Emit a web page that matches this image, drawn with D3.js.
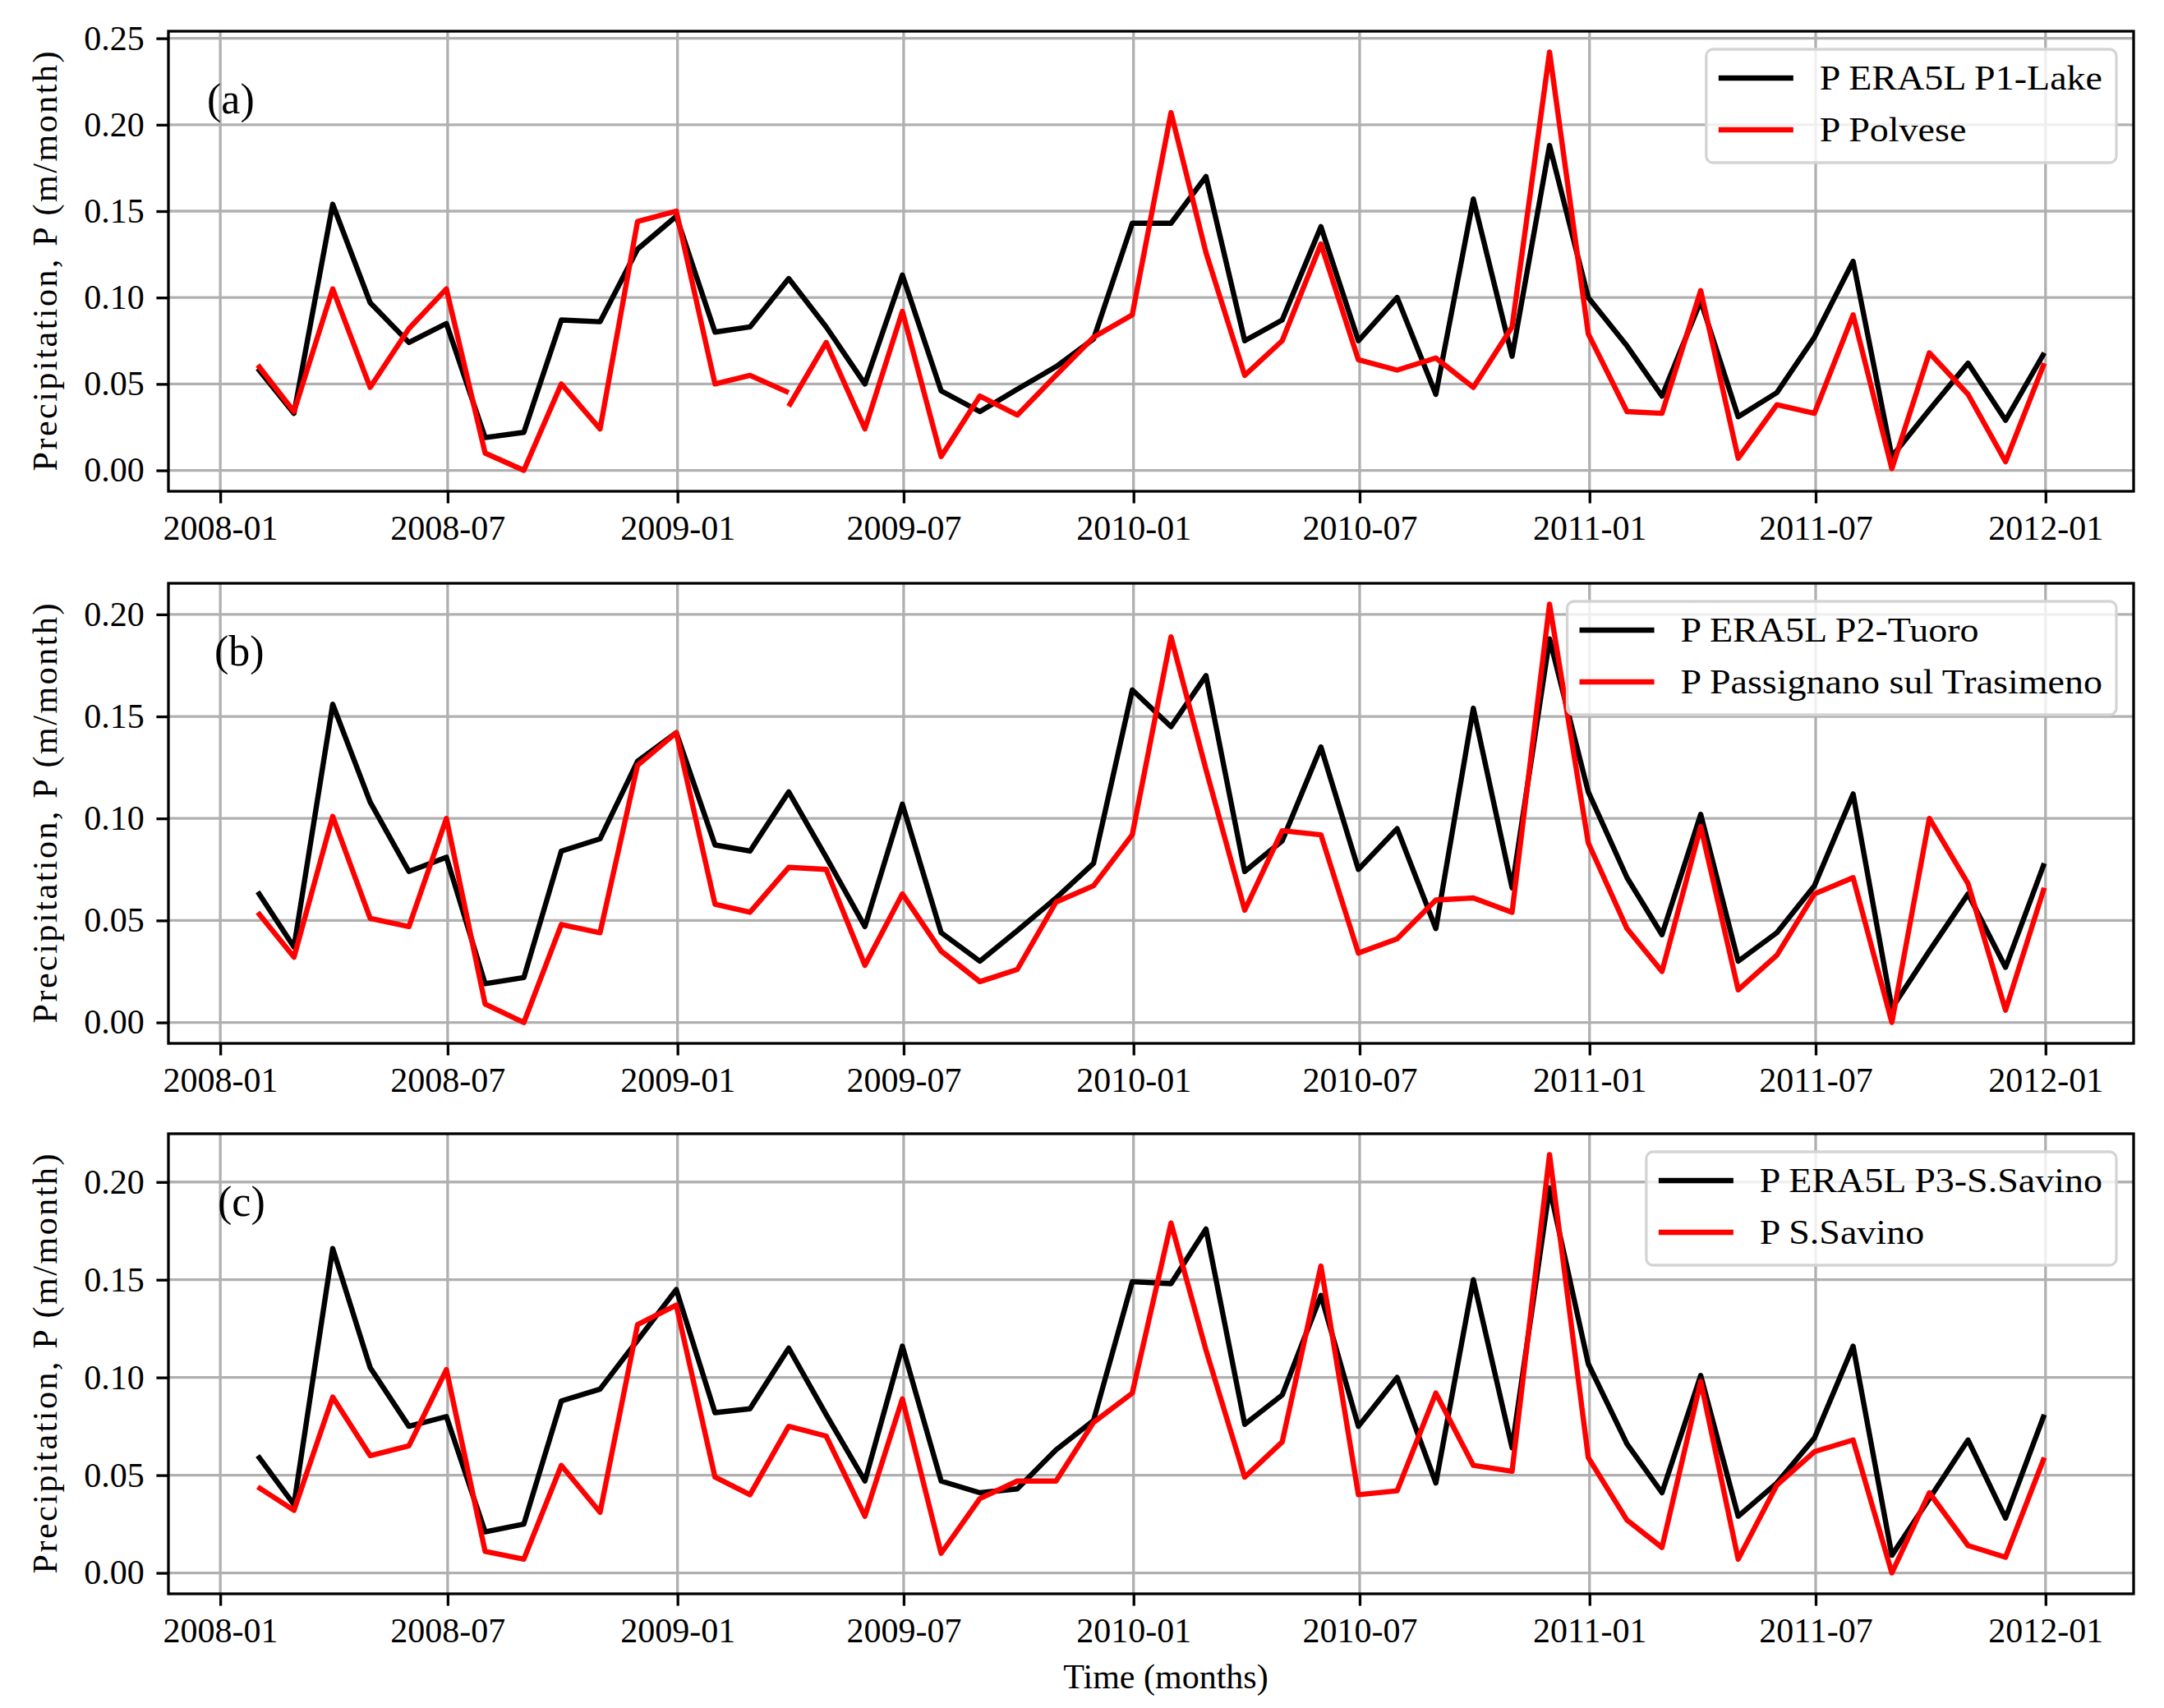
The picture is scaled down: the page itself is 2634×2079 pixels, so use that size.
<!DOCTYPE html>
<html>
<head>
<meta charset="utf-8">
<script src="https://cdn.jsdelivr.net/npm/d3@7"></script>
<style>
  body { margin: 0; background: #fff; }
  svg text { font-family: "Liberation Serif", "DejaVu Serif", serif !important; fill: #000; }
</style>
</head>
<body>
<svg id="fig"></svg>
<script>
// monthly totals, Jan 2008 .. Dec 2011 (month-end stamps)
var firstMonth = "2008-01";
var nMonths = 48;
var xTickLabels = ["2008-01", "2008-07", "2009-01", "2009-07", "2010-01",
                   "2010-07", "2011-01", "2011-07", "2012-01"];

// (a) ERA5L P1-Lake vs Polvese
var eraLake = [0.059, 0.033, 0.154, 0.097, 0.074, 0.085, 0.019, 0.022, 0.087, 0.086, 0.128, 0.147,
               0.080, 0.083, 0.111, 0.083, 0.050, 0.113, 0.046, 0.034, 0.047, 0.060, 0.076, 0.143,
               0.143, 0.170, 0.075, 0.087, 0.141, 0.075, 0.100, 0.044, 0.157, 0.066, 0.188, 0.100,
               0.072, 0.043, 0.098, 0.031, 0.045, 0.077, 0.121, 0.008, 0.035, 0.062, 0.029, 0.068];
// Polvese record is split in two pieces at Mar 2009
var polvese1 = [0.061, 0.034, 0.105, 0.048, 0.082, 0.105, 0.010, 0.000, 0.050, 0.024, 0.144, 0.150,
                0.050, 0.055, 0.045];                       // Jan 2008 .. Mar 2009
var polvese2 = [0.037, 0.074, 0.024, 0.092, 0.008, 0.043, 0.032, 0.055, 0.077, 0.090,
                0.207, 0.126, 0.055, 0.075, 0.131, 0.064, 0.058, 0.065, 0.048, 0.083, 0.242, 0.079,
                0.034, 0.033, 0.104, 0.007, 0.038, 0.033, 0.090, 0.001, 0.068, 0.044, 0.005, 0.062]; // Mar 2009 .. Dec 2011

// (b) ERA5L P2-Tuoro vs Passignano sul Trasimeno
var eraTuoro = [0.064, 0.037, 0.156, 0.108, 0.074, 0.081, 0.019, 0.022, 0.084, 0.090, 0.128, 0.142,
                0.087, 0.084, 0.113, 0.081, 0.047, 0.107, 0.044, 0.030, 0.045, 0.061, 0.078, 0.163,
                0.145, 0.170, 0.074, 0.089, 0.135, 0.075, 0.095, 0.046, 0.154, 0.066, 0.188, 0.113,
                0.071, 0.043, 0.102, 0.030, 0.044, 0.067, 0.112, 0.007, 0.035, 0.063, 0.027, 0.078];
var passignano = [0.054, 0.032, 0.101, 0.051, 0.047, 0.100, 0.009, 0.000, 0.048, 0.044, 0.126, 0.142,
                  0.058, 0.054, 0.076, 0.075, 0.028, 0.063, 0.035, 0.020, 0.026, 0.059, 0.067, 0.092,
                  0.189, 0.124, 0.055, 0.094, 0.092, 0.034, 0.041, 0.060, 0.061, 0.054, 0.205, 0.088,
                  0.046, 0.025, 0.096, 0.016, 0.033, 0.063, 0.071, 0.000, 0.100, 0.068, 0.006, 0.066];

// (c) ERA5L P3-S.Savino vs S.Savino
var eraSavino = [0.060, 0.035, 0.166, 0.105, 0.075, 0.080, 0.021, 0.025, 0.088, 0.094, 0.119, 0.145,
                 0.082, 0.084, 0.115, 0.081, 0.047, 0.116, 0.047, 0.041, 0.043, 0.063, 0.078, 0.149,
                 0.148, 0.176, 0.076, 0.091, 0.142, 0.075, 0.100, 0.046, 0.150, 0.064, 0.197, 0.107,
                 0.066, 0.041, 0.101, 0.029, 0.046, 0.069, 0.116, 0.009, 0.038, 0.068, 0.028, 0.081];
var savino = [0.044, 0.032, 0.090, 0.060, 0.065, 0.104, 0.011, 0.007, 0.055, 0.031, 0.127, 0.137,
              0.049, 0.040, 0.075, 0.070, 0.029, 0.089, 0.010, 0.038, 0.047, 0.047, 0.077, 0.092,
              0.179, 0.114, 0.049, 0.067, 0.157, 0.040, 0.042, 0.092, 0.055, 0.052, 0.214, 0.059,
              0.027, 0.013, 0.098, 0.007, 0.045, 0.062, 0.068, 0.000, 0.041, 0.014, 0.008, 0.059];

var yTicksA = [0, 0.05, 0.10, 0.15, 0.20, 0.25];
var yTicksBC = [0, 0.05, 0.10, 0.15, 0.20];

//panels: each series is a list of [start month index, values] pieces
var panels = [
    {tag: "(a)", black: [[0, eraLake]], red: [[0, polvese1], [14, polvese2]],
     blackName: "P ERA5L P1-Lake", redName: "P Polvese", yTicks: yTicksA,
     top: 38, tagX: 252},
    {tag: "(b)", black: [[0, eraTuoro]], red: [[0, passignano]],
     blackName: "P ERA5L P2-Tuoro", redName: "P Passignano sul Trasimeno", yTicks: yTicksBC,
     top: 710, tagX: 261},
    {tag: "(c)", black: [[0, eraSavino]], red: [[0, savino]],
     blackName: "P ERA5L P3-S.Savino", redName: "P S.Savino", yTicks: yTicksBC,
     top: 1380, tagX: 265}
];

//figure geometry
var W = 2634, H = 2079;
var left = 205, right = 2597, panelH = 560;
var lw = 6.4, spineW = 3.3, tickLen = 14.6, tickPad = 14.6;
var serif = "'Liberation Serif', 'DejaVu Serif', serif";

var svg = d3.select("#fig").attr("width", W).attr("height", H);
svg.append("rect").attr("width", W).attr("height", H).attr("fill", "#fff");

//month-end dates
var parseMonth = d3.utcParse("%Y-%m");
var start = parseMonth(firstMonth);
var dates = d3.range(nMonths).map(function(i) {
    return d3.utcDay.offset(d3.utcMonth.offset(start, i + 1), -1);
});
var t0 = +dates[0], t1 = +dates[nMonths - 1], span = t1 - t0;
var x = d3.scaleUtc()
    .domain([new Date(t0 - 0.05 * span), new Date(t1 + 0.05 * span)])
    .range([left, right]);
var xTicks = xTickLabels.map(parseMonth);

function toPoints(pieces) {
    return pieces.map(function(p) {
        return p[1].map(function(v, j) { return {date: dates[p[0] + j], value: v}; });
    });
}

panels.forEach(function(p) {
    var top = p.top, bottom = top + panelH;
    var blackPieces = toPoints(p.black), redPieces = toPoints(p.red);
    var all = d3.merge(blackPieces.concat(redPieces)).map(function(d) { return d.value; });
    var lo = d3.min(all), hi = d3.max(all), pad = 0.05 * (hi - lo);
    var y = d3.scaleLinear().domain([lo - pad, hi + pad]).range([bottom, top]);

    var g = svg.append("g");

    //grid
    g.append("g").selectAll("line").data(p.yTicks).join("line")
        .attr("x1", left).attr("x2", right)
        .attr("y1", function(d) { return y(d); }).attr("y2", function(d) { return y(d); })
        .attr("stroke", "#b0b0b0").attr("stroke-width", 3.3);
    g.append("g").selectAll("line").data(xTicks).join("line")
        .attr("y1", top).attr("y2", bottom)
        .attr("x1", function(d) { return x(d); }).attr("x2", function(d) { return x(d); })
        .attr("stroke", "#b0b0b0").attr("stroke-width", 3.3);

    //series
    var line = d3.line().x(function(d) { return x(d.date); }).y(function(d) { return y(d.value); });
    [[blackPieces, "#000000"], [redPieces, "#ff0000"]].forEach(function(s) {
        g.append("g").selectAll("path").data(s[0]).join("path")
            .attr("d", line)
            .attr("fill", "none").attr("stroke", s[1]).attr("stroke-width", lw)
            .attr("stroke-linejoin", "round").attr("stroke-linecap", "butt");
    });

    //axes
    var xAxis = g.append("g").attr("transform", "translate(0," + bottom + ")")
        .call(d3.axisBottom(x).tickValues(xTicks).tickFormat(d3.utcFormat("%Y-%m"))
            .tickSize(tickLen).tickPadding(tickPad));
    var yAxis = g.append("g").attr("transform", "translate(" + left + ",0)")
        .call(d3.axisLeft(y).tickValues(p.yTicks).tickFormat(d3.format(".2f"))
            .tickSize(tickLen).tickPadding(tickPad));
    [xAxis, yAxis].forEach(function(a) {
        a.attr("font-family", serif);
        a.select(".domain").remove();
        a.selectAll(".tick line").attr("stroke", "#000").attr("stroke-width", spineW);
        a.selectAll(".tick text").attr("font-size", 42)
            .style("font-family", serif).attr("fill", "#000");
    });

    //frame
    g.append("rect").attr("x", left).attr("y", top)
        .attr("width", right - left).attr("height", panelH)
        .attr("fill", "none").attr("stroke", "#000").attr("stroke-width", spineW);

    //y label
    g.append("text")
        .attr("transform", "translate(69," + (top + panelH / 2) + ") rotate(-90)")
        .attr("text-anchor", "middle")
        .attr("font-size", 42).style("font-family", serif)
        .attr("textLength", 511).attr("lengthAdjust", "spacing")
        .text("Precipitation, P (m/month)");

    //panel tag
    g.append("text").attr("x", p.tagX).attr("y", top + 100)
        .attr("font-size", 52).style("font-family", serif).text(p.tag);

    //legend
    var leg = g.append("g");
    var box = leg.append("rect").attr("rx", 8).attr("ry", 8)
        .attr("fill", "#fff").attr("fill-opacity", 0.8)
        .attr("stroke", "#d4d4d4").attr("stroke-width", 3.3);
    var rows = [[p.blackName, "#000000"], [p.redName, "#ff0000"]];
    var textW = 0;
    rows.forEach(function(r, i) {
        var ry = 35 + i * 63;
        leg.append("line").attr("x1", 15).attr("x2", 106).attr("y1", ry).attr("y2", ry)
            .attr("stroke", r[1]).attr("stroke-width", lw);
        var t = leg.append("text").attr("x", 138).attr("y", ry).attr("dy", "0.33em")
            .attr("font-size", 43).style("font-family", serif).text(r[0]);
        //widen a little toward the Computer Modern metrics of the original
        var w = t.node().getComputedTextLength() * 1.07;
        t.attr("textLength", w).attr("lengthAdjust", "spacingAndGlyphs");
        textW = Math.max(textW, w);
    });
    var boxW = 138 + textW + 17;
    box.attr("width", boxW).attr("height", 138);
    leg.attr("transform", "translate(" + (right - 21 - boxW) + "," + (top + 22) + ")");
});

//x label
svg.append("text").attr("x", 1419).attr("y", 2055)
    .attr("text-anchor", "middle").attr("font-size", 42).style("font-family", serif)
    .text("Time (months)");
</script>
</body>
</html>
